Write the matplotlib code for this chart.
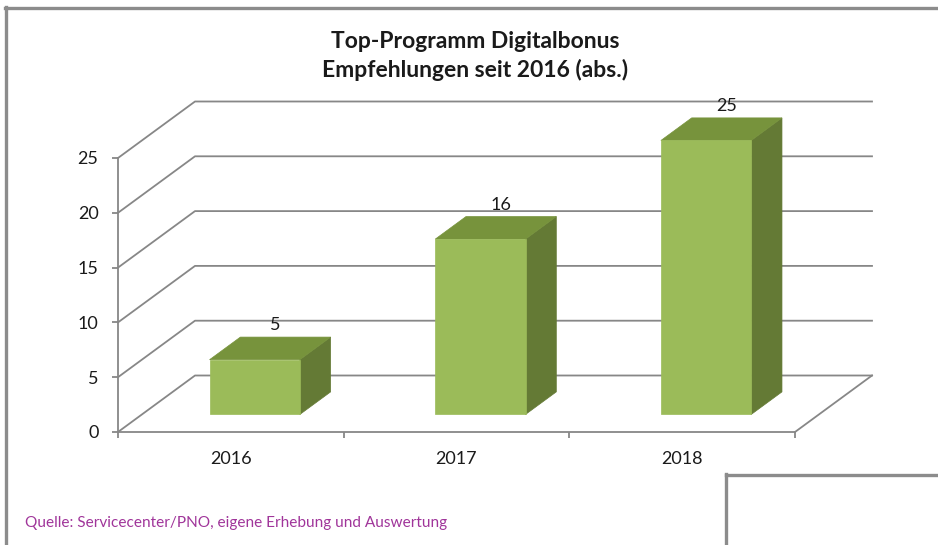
import matplotlib
matplotlib.use("Agg")
import matplotlib.pyplot as plt
from matplotlib.patches import Polygon
from matplotlib.lines import Line2D

# ---- data ----
categories = ["2016", "2017", "2018"]
values = [5, 16, 25]
yticks = [0, 5, 10, 15, 20, 25]
title = "Top-Programm Digitalbonus\nEmpfehlungen seit 2016 (abs.)"
source = "Quelle: Servicecenter/PNO, eigene Erhebung und Auswertung"

# ---- style ----
FONT = "Lato"
GRID = "#878787"
FRONT = "#9bbb59"
TOP = "#77933c"
SIDE = "#647a35"
BORDER = "#8c8c8c"
SRC_COLOR = "#a0359a"

W, H = 938, 545
fig = plt.figure(figsize=(W / 100, H / 100), dpi=100)
fig.patch.set_facecolor("white")

# axes = front plane of the 3D box
ax = fig.add_axes([118 / W, (H - 432) / H, (795 - 118) / W, (432 - 158) / H])
ax.set_xlim(0, len(categories))
ax.set_ylim(0, 25)
ax.set_facecolor("none")

px_per_cat = (795 - 118) / len(categories)
px_per_val = (432 - 158) / 25
OX = 77 / px_per_cat      # depth offset in category units
OY = 56.5 / px_per_val    # depth offset in value units


def proj(x, y, d):
    return (x + d * OX, y + d * OY)


# back wall / left wall gridlines
n = len(categories)
for v in yticks:
    p0 = proj(0, v, 0)
    p1 = proj(0, v, 1)
    p2 = proj(n, v, 1)
    ax.add_line(Line2D([p0[0], p1[0], p2[0]], [p0[1], p1[1], p2[1]],
                       color=GRID, lw=1.3, clip_on=False, zorder=1))
# floor right edge
q0 = proj(n, 0, 0)
q1 = proj(n, 0, 1)
ax.add_line(Line2D([q0[0], q1[0]], [q0[1], q1[1]], color=GRID, lw=1.3,
                   clip_on=False, zorder=1))

# bars
d_front, d_back = 0.31, 0.71
bw = 0.40
for i, v in enumerate(values):
    xl = i + 0.5 - bw / 2
    xr = i + 0.5 + bw / 2
    front = [proj(xl, 0, d_front), proj(xr, 0, d_front),
             proj(xr, v, d_front), proj(xl, v, d_front)]
    top = [proj(xl, v, d_front), proj(xr, v, d_front),
           proj(xr, v, d_back), proj(xl, v, d_back)]
    side = [proj(xr, 0, d_front), proj(xr, 0, d_back),
            proj(xr, v, d_back), proj(xr, v, d_front)]
    for poly, c in ((side, SIDE), (top, TOP), (front, FRONT)):
        ax.add_patch(Polygon(poly, closed=True, facecolor=c, edgecolor=c,
                             lw=0.5, clip_on=False, zorder=3))
    lx, ly = proj(i + 0.5, v, 0.58)
    ax.annotate(str(v), (lx, ly), xytext=(0, 8), textcoords="offset points",
                ha="center", va="bottom", fontsize=13, family=FONT,
                color="#1a1a1a", annotation_clip=False, zorder=5)

# axes spines/ticks
for s in ("top", "right"):
    ax.spines[s].set_visible(False)
for s in ("left", "bottom"):
    ax.spines[s].set_color(GRID)
    ax.spines[s].set_linewidth(1.3)
ax.set_yticks(yticks)
ax.set_yticklabels([str(t) for t in yticks])
ax.tick_params(axis="y", direction="out", length=4, width=1.3, color=GRID,
               pad=10, labelsize=13, labelcolor="#1a1a1a")
ax.set_xticks(range(n + 1))
ax.set_xticklabels([""] * (n + 1))
ax.tick_params(axis="x", which="major", direction="out", length=4, width=1.3,
               color=GRID)
ax.set_xticks([i + 0.5 for i in range(n)], minor=True)
ax.set_xticklabels(categories, minor=True)
ax.tick_params(axis="x", which="minor", length=0, pad=14, labelsize=13,
               labelcolor="#1a1a1a")
for lbl in ax.get_yticklabels() + ax.get_xticklabels(minor=True):
    lbl.set_family(FONT)

# title
fig.text(475 / W, 1 - 56 / H, title, ha="center", va="center", fontsize=16.5,
         fontweight="bold", family=FONT, color="#1a1a1a", linespacing=1.4)

# source
fig.text(25 / W, 1 - 523 / H, source, ha="left", va="center", fontsize=11.1,
         family=FONT, color=SRC_COLOR)

# chart border (top + left) and bottom-right box
fig.add_artist(Line2D([5 / W, 1], [1 - 8 / H, 1 - 8 / H], color=BORDER, lw=2.4,
                      transform=fig.transFigure))
fig.add_artist(Line2D([6 / W, 6 / W], [1 - 7 / H, 0], color=BORDER, lw=2.4,
                      transform=fig.transFigure))
fig.add_artist(Line2D([726 / W, 1], [1 - 475 / H, 1 - 475 / H], color=BORDER,
                      lw=2.4, transform=fig.transFigure))
fig.add_artist(Line2D([726 / W, 726 / W], [1 - 474 / H, 0], color=BORDER,
                      lw=2.4, transform=fig.transFigure))

fig.savefig("out.png", dpi=100, facecolor="white")
